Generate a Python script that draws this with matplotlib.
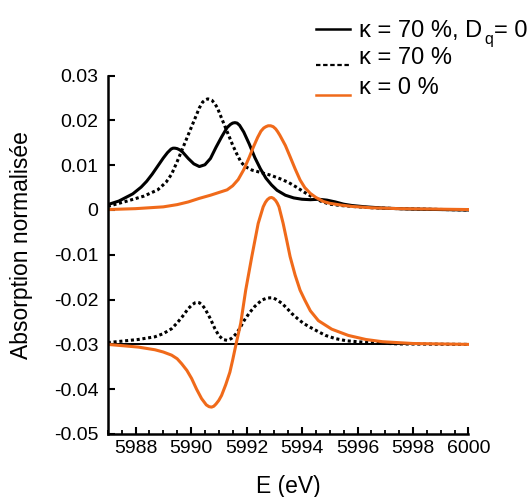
import matplotlib
matplotlib.use("Agg")
import matplotlib.pyplot as plt
from matplotlib.lines import Line2D
from matplotlib.ticker import FixedLocator, FixedFormatter, MultipleLocator

plt.rcParams['font.family'] = ['Liberation Sans', 'DejaVu Sans']
plt.rcParams['axes.unicode_minus'] = False

# ---------------- data ----------------
# kappa = 70 %, Dq = 0 (solid black, absorption)
e_solid = [5987.0, 5987.4, 5987.9, 5988.2, 5988.4, 5988.6, 5988.8, 5989.0, 5989.15, 5989.28,
           5989.35, 5989.42, 5989.5, 5989.6, 5989.7, 5989.9, 5990.1, 5990.3, 5990.5, 5990.7,
           5990.9, 5991.1, 5991.3, 5991.42, 5991.5, 5991.58, 5991.66, 5991.75, 5991.9, 5992.1,
           5992.3, 5992.5, 5992.7, 5992.9, 5993.1, 5993.4, 5993.7, 5994.0, 5994.3, 5994.6,
           5994.9, 5995.2, 5995.5, 5995.8, 5996.3, 5997.0, 5998.0, 6000.0]
a_solid = [0.0012, 0.0020, 0.0036, 0.0051, 0.0064, 0.0080, 0.0098, 0.0116, 0.0128, 0.0136,
           0.0138, 0.0138, 0.0137, 0.0134, 0.0129, 0.0115, 0.0103, 0.0097, 0.0101, 0.0115,
           0.0140, 0.0163, 0.0184, 0.0191, 0.0194, 0.0195, 0.0194, 0.0189, 0.0174, 0.0147,
           0.0117, 0.0092, 0.0071, 0.0056, 0.0044, 0.0033, 0.0027, 0.0024, 0.0023, 0.0024,
           0.0022, 0.0018, 0.0013, 0.0010, 0.0007, 0.0004, 0.0002, 0.0000]

# kappa = 70 % (dotted black, absorption)
e_dot = [5987.0, 5987.7, 5988.3, 5988.8, 5989.1, 5989.3, 5989.5, 5989.7, 5989.9, 5990.1,
         5990.3, 5990.42, 5990.52, 5990.6, 5990.68, 5990.75, 5990.85, 5990.95, 5991.1, 5991.3,
         5991.5, 5991.65, 5991.8, 5991.95, 5992.2, 5992.5, 5992.85, 5993.2, 5993.5, 5993.8,
         5994.1, 5994.4, 5994.7, 5995.0, 5995.4, 5995.8, 5996.5, 5997.5, 6000.0]
a_dot = [0.0008, 0.0020, 0.0031, 0.0045, 0.0062, 0.0080, 0.0108, 0.0138, 0.0168, 0.0198,
         0.0228, 0.0241, 0.0246, 0.0248, 0.0247, 0.0245, 0.0238, 0.0228, 0.0205, 0.0175,
         0.0145, 0.0125, 0.0107, 0.0097, 0.0089, 0.0084, 0.0078, 0.0070, 0.0062, 0.0051,
         0.0039, 0.0028, 0.0019, 0.0013, 0.0010, 0.0008, 0.0005, 0.0003, 0.0000]

# kappa = 0 % (orange, absorption)
e_orange = [5987.0, 5988.0, 5989.0, 5989.5, 5989.9, 5990.3, 5990.7, 5991.0, 5991.3, 5991.5,
            5991.7, 5991.9, 5992.1, 5992.25, 5992.4, 5992.52, 5992.62, 5992.7, 5992.78, 5992.87,
            5992.96, 5993.05, 5993.12, 5993.2, 5993.4, 5993.57, 5993.75, 5993.93, 5994.1, 5994.3,
            5994.5, 5994.77, 5995.0, 5995.4, 5995.8, 5996.5, 5997.5, 6000.0]
a_orange = [0.0001, 0.0003, 0.0007, 0.0012, 0.0018, 0.0026, 0.0033, 0.0039, 0.0045, 0.0054,
            0.0068, 0.0090, 0.0118, 0.0141, 0.0162, 0.0176, 0.0183, 0.0186, 0.0188, 0.0188,
            0.0186, 0.0181, 0.0175, 0.0167, 0.0144, 0.0119, 0.0092, 0.0067, 0.0050, 0.0037,
            0.0028, 0.0019, 0.0015, 0.0011, 0.0008, 0.0005, 0.0003, 0.0001]

# dichroism curves (offset by -0.03)
e_zero = [5987.0, 6000.0]
d_zero = [-0.0300, -0.0300]

e_dot_d = [5987.0, 5988.1, 5988.7, 5989.0, 5989.3, 5989.5, 5989.7, 5989.9, 5990.05, 5990.15,
           5990.22, 5990.3, 5990.4, 5990.5, 5990.7, 5990.86, 5991.0, 5991.15, 5991.3, 5991.45,
           5991.6, 5991.75, 5991.9, 5992.1, 5992.3, 5992.55, 5992.72, 5992.85, 5992.95, 5993.05,
           5993.27, 5993.45, 5993.63, 5993.85, 5994.05, 5994.3, 5994.6, 5994.85, 5995.2, 5995.6,
           5996.4, 5997.5, 6000.0]
d_dot = [-0.0296, -0.0289, -0.0283, -0.0276, -0.0265, -0.0252, -0.0237, -0.0220, -0.0211, -0.0207,
         -0.0206, -0.0207, -0.0212, -0.0220, -0.0243, -0.0265, -0.0280, -0.0289, -0.0291, -0.0287,
         -0.0278, -0.0265, -0.0248, -0.0230, -0.0215, -0.0201, -0.0197, -0.0196, -0.0196, -0.0199,
         -0.0208, -0.0219, -0.0231, -0.0243, -0.0253, -0.0262, -0.0272, -0.0280, -0.0287, -0.0292,
         -0.0296, -0.0299, -0.0300]

e_orange_d = [5987.0, 5988.1, 5988.7, 5989.0, 5989.3, 5989.5, 5989.66, 5989.85, 5990.02, 5990.2,
              5990.38, 5990.55, 5990.65, 5990.74, 5990.82, 5990.9, 5991.0, 5991.1, 5991.25, 5991.4,
              5991.5, 5991.62, 5991.79, 5991.97, 5992.19, 5992.42, 5992.6, 5992.68, 5992.75, 5992.83,
              5992.9, 5992.97, 5993.05, 5993.11, 5993.17, 5993.32, 5993.45, 5993.57, 5993.75, 5993.93,
              5994.1, 5994.3, 5994.59, 5995.07, 5995.67, 5996.3, 5996.9, 5998.0, 6000.0]
d_orange = [-0.0300, -0.0306, -0.0312, -0.0317, -0.0324, -0.0332, -0.0343, -0.0358, -0.0376, -0.0400,
            -0.0421, -0.0435, -0.0439, -0.0440, -0.0438, -0.0433, -0.0425, -0.0414, -0.0390, -0.0362,
            -0.0335, -0.0300, -0.0253, -0.0179, -0.0104, -0.0030, 0.0007, 0.0017, 0.0023, 0.0027,
            0.0028, 0.0026, 0.0021, 0.0015, 0.0007, -0.0030, -0.0068, -0.0104, -0.0145, -0.0179,
            -0.0201, -0.0225, -0.0247, -0.0266, -0.0280, -0.0289, -0.0294, -0.0298, -0.0300]

x_ticks = [5988, 5990, 5992, 5994, 5996, 5998, 6000]
x_labels = ["5988", "5990", "5992", "5994", "5996", "5998", "6000"]
y_ticks = [-0.05, -0.04, -0.03, -0.02, -0.01, 0.0, 0.01, 0.02, 0.03]
y_labels = ["-0.05", "-0.04", "-0.03", "-0.02", "-0.01", "0", "0.01", "0.02", "0.03"]

legend_labels = ["κ = 70 %, D", "κ = 70 %", "κ = 0 %"]

# ---------------- figure ----------------
W, H = 529, 497
fig = plt.figure(figsize=(W / 100, H / 100), dpi=100)
ax = fig.add_axes([107.8 / W, 1 - 434 / H, (468.5 - 107.8) / W, (434 - 75.6) / H])

ORANGE = '#F06A1A'
ax.plot(e_solid, a_solid, color='black', lw=2.2)
ax.plot(e_zero, d_zero, color='black', lw=1.4)
ax.plot(e_dot, a_dot, color='black', lw=2.2, linestyle=(0, (1.0, 0.9)))
ax.plot(e_dot_d, d_dot, color='black', lw=2.2, linestyle=(0, (1.0, 0.9)))
ax.plot(e_orange, a_orange, color=ORANGE, lw=2.2)
ax.plot(e_orange_d, d_orange, color=ORANGE, lw=2.2)

ax.set_xlim(5987, 6000)
ax.set_ylim(-0.05, 0.03)
for s in ('top', 'right'):
    ax.spines[s].set_visible(False)
for s in ('left', 'bottom'):
    ax.spines[s].set_linewidth(1.8)

ax.xaxis.set_major_locator(FixedLocator(x_ticks))
ax.xaxis.set_major_formatter(FixedFormatter(x_labels))
ax.xaxis.set_minor_locator(MultipleLocator(0.5))
ax.yaxis.set_major_locator(FixedLocator(y_ticks))
ax.yaxis.set_major_formatter(FixedFormatter(y_labels))
ax.tick_params(axis='both', which='major', direction='in', length=5, width=1.5, labelsize=14)
ax.tick_params(axis='x', which='minor', direction='in', length=3, width=1.3)
ax.tick_params(axis='y', which='major', pad=6.8)
ax.tick_params(axis='x', which='major', pad=4.5)

# axis titles
fig.text(288 / W, 1 - 493 / H, "E (eV)", fontsize=16.5, ha='center', va='baseline')
fig.text(28.3 / W, 1 - 245 / H, "Absorption normalisée", fontsize=16.5, rotation=90,
         ha='center', va='baseline', rotation_mode='anchor')

# legend (manual, outside axes, top right)
LFS = 17
rows = [(29, 36.7, dict(color='black', lw=1.8)),
        (64.5, 64.3, dict(color='black', lw=1.6, linestyle=(0, (2.0, 1.2)))),
        (95, 94.3, dict(color=ORANGE, lw=1.8))]
texts = []
for (yl, yt, style), lab in zip(rows, legend_labels):
    fig.add_artist(Line2D([316 / W, 350 / W], [1 - yl / H, 1 - yl / H], transform=fig.transFigure, **style))
    texts.append(fig.text(359 / W, 1 - yt / H, lab, fontsize=LFS, ha='left', va='baseline'))

fig.canvas.draw()
bb = texts[0].get_window_extent(renderer=fig.canvas.get_renderer())
q = fig.text((bb.x1 + 2) / W, 1 - 44 / H, "q", fontsize=11.5, ha='left', va='baseline')
fig.canvas.draw()
bq = q.get_window_extent(renderer=fig.canvas.get_renderer())
fig.text((bq.x1 + 1) / W, 1 - 36.7 / H, "= 0", fontsize=LFS, ha='left', va='baseline')

fig.savefig("out.png", dpi=100)
